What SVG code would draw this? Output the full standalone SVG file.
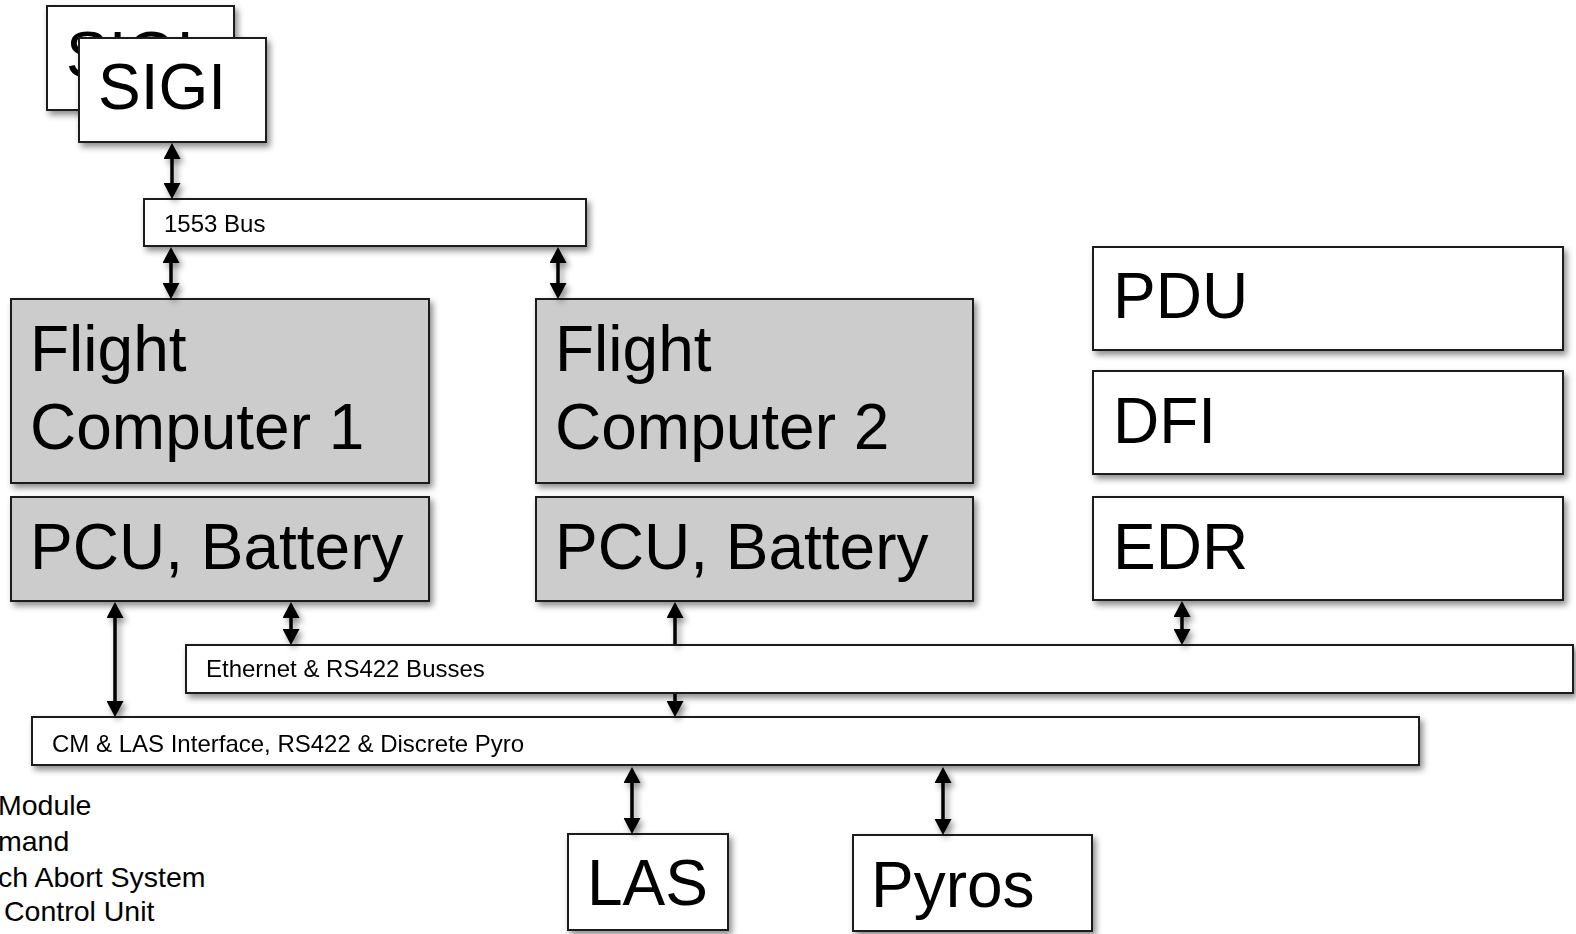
<svg xmlns="http://www.w3.org/2000/svg" width="1576" height="934" viewBox="0 0 1576 934">
<style>
  .box { fill: #ffffff; stroke: #1a1a1a; stroke-width: 2; }
  .gray { fill: #cccccc; }
  .big { font-family: "Liberation Sans", Arial, sans-serif; font-size: 64px; fill: #000; }
  .small { font-family: "Liberation Sans", Arial, sans-serif; font-size: 24px; fill: #000; }
  .legend { font-family: "Liberation Sans", Arial, sans-serif; font-size: 28.5px; fill: #000; }
  .conn { stroke: #000; stroke-width: 3.5; fill: none; }
</style>
<defs>
  <filter id="shadow" x="-10%" y="-10%" width="130%" height="140%">
    <feDropShadow dx="3" dy="4" stdDeviation="3" flood-color="#000" flood-opacity="0.45"/>
  </filter>
  <marker id="head" markerUnits="userSpaceOnUse" markerWidth="17" markerHeight="17" viewBox="0 0 16 17" refX="12" refY="8.5" orient="auto-start-reverse">
    <path d="M0,0 L16,8.5 L0,17 z" fill="#000"/>
  </marker>
</defs>
<rect width="1576" height="934" fill="#ffffff"/>

<g id="sigi-back" filter="url(#shadow)">
  <rect class="box" x="47" y="6" width="187" height="104"/>
  <text class="big" x="66" y="77" font-size="66">SIGI</text>
</g>
<g id="sigi" filter="url(#shadow)">
  <rect class="box" x="79" y="38" width="187" height="104"/>
  <text class="big" x="98" y="109" font-size="66">SIGI</text>
</g>
<g id="bus1553" filter="url(#shadow)">
  <rect class="box" x="144" y="199" width="442" height="47"/>
  <text class="small" x="164" y="232">1553 Bus</text>
</g>
<g id="fc1" filter="url(#shadow)">
  <rect class="box gray" x="11" y="299" width="418" height="184"/>
  <text class="big" x="30" y="371">Flight</text>
  <text class="big" x="30" y="449">Computer 1</text>
</g>
<g id="pcu1" filter="url(#shadow)">
  <rect class="box gray" x="11" y="497" width="418" height="104"/>
  <text class="big" x="30" y="569">PCU, Battery</text>
</g>
<g id="fc2" filter="url(#shadow)">
  <rect class="box gray" x="536" y="299" width="437" height="184"/>
  <text class="big" x="555" y="371">Flight</text>
  <text class="big" x="555" y="449">Computer 2</text>
</g>
<g id="pcu2" filter="url(#shadow)">
  <rect class="box gray" x="536" y="497" width="437" height="104"/>
  <text class="big" x="555" y="569">PCU, Battery</text>
</g>
<g id="pdu" filter="url(#shadow)">
  <rect class="box" x="1093" y="247" width="470" height="103"/>
  <text class="big" x="1113" y="318">PDU</text>
</g>
<g id="dfi" filter="url(#shadow)">
  <rect class="box" x="1093" y="371" width="470" height="103"/>
  <text class="big" x="1113" y="443">DFI</text>
</g>
<g id="edr" filter="url(#shadow)">
  <rect class="box" x="1093" y="497" width="470" height="103"/>
  <text class="big" x="1113" y="569">EDR</text>
</g>
<g id="ethernet" filter="url(#shadow)">
  <rect class="box" x="186" y="645" width="1387" height="48"/>
  <text class="small" x="206" y="677">Ethernet &amp; RS422 Busses</text>
</g>
<g id="cm-las" filter="url(#shadow)">
  <rect class="box" x="32" y="717" width="1387" height="48"/>
  <text class="small" x="52" y="752">CM &amp; LAS Interface, RS422 &amp; Discrete Pyro</text>
</g>
<g id="las" filter="url(#shadow)">
  <rect class="box" x="568" y="834" width="160" height="96"/>
  <text class="big" x="587" y="905">LAS</text>
</g>
<g id="pyros" filter="url(#shadow)">
  <rect class="box" x="853" y="835" width="239" height="96"/>
  <text class="big" x="871" y="907">Pyros</text>
</g>

<g id="legend">
  <text class="legend" x="-2" y="815">Module</text>
  <text class="legend" x="-2" y="851">mand</text>
  <text class="legend" x="-2" y="887">ch Abort System</text>
  <text class="legend" x="4" y="921">Control Unit</text>
</g>

<g id="connectors" filter="url(#shadow)">
  <path class="conn" d="M172,147 V195" marker-start="url(#head)" marker-end="url(#head)"/>
  <path class="conn" d="M171,251 V295" marker-start="url(#head)" marker-end="url(#head)"/>
  <path class="conn" d="M558,251 V295" marker-start="url(#head)" marker-end="url(#head)"/>
  <path class="conn" d="M115,606 V713" marker-start="url(#head)" marker-end="url(#head)"/>
  <path class="conn" d="M291,606 V641" marker-start="url(#head)" marker-end="url(#head)"/>
  <path class="conn" d="M675,606 V644" marker-start="url(#head)"/>
  <path class="conn" d="M675,694 V713" marker-end="url(#head)"/>
  <path class="conn" d="M1182,605 V641" marker-start="url(#head)" marker-end="url(#head)"/>
  <path class="conn" d="M632,771 V830" marker-start="url(#head)" marker-end="url(#head)"/>
  <path class="conn" d="M943,771 V831" marker-start="url(#head)" marker-end="url(#head)"/>
</g>
</svg>
